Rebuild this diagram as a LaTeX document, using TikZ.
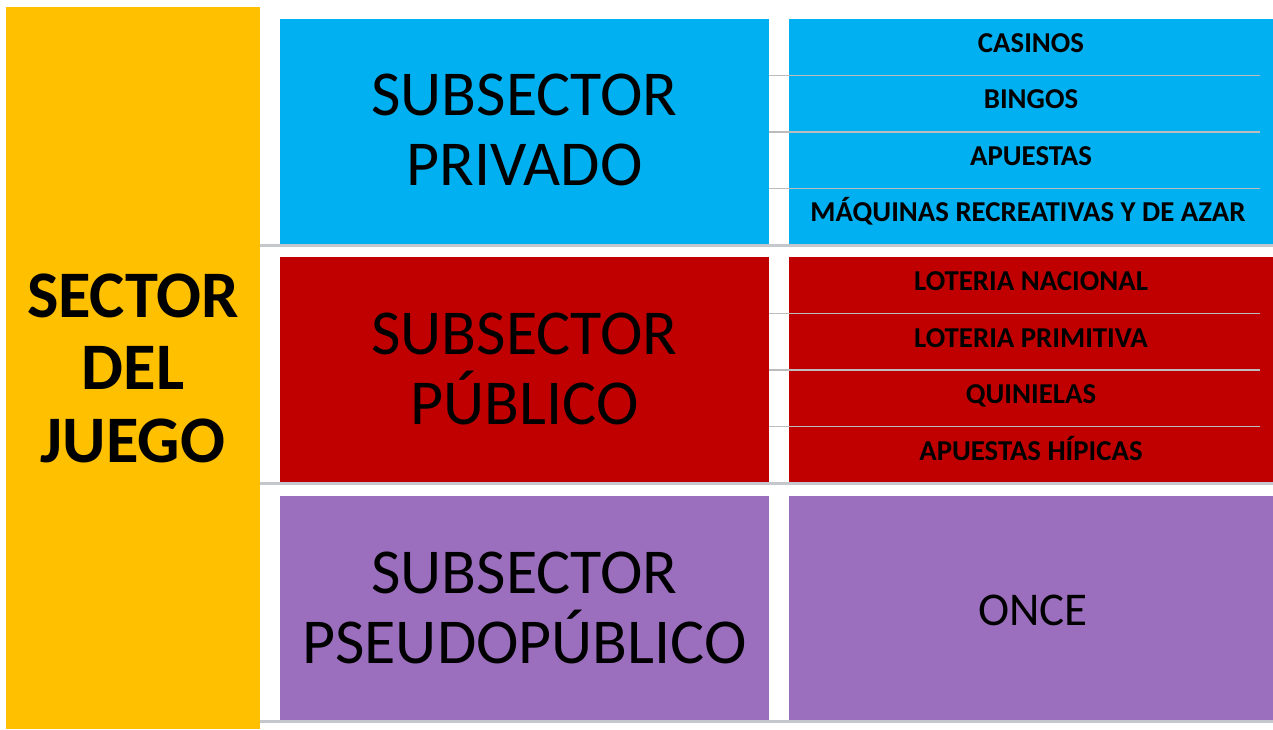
\documentclass[tikz,border=0pt]{standalone}
\usepackage{fontspec}
\setmainfont{Carlito}
\definecolor{cyellow}{HTML}{FFC000}
\definecolor{cblue}{HTML}{00B0F0}
\definecolor{cred}{HTML}{C00000}
\definecolor{cpurple}{HTML}{9B6FBD}
\definecolor{rowgray}{HTML}{C4C8CC}
\definecolor{subgray}{HTML}{BCBCBC}
\begin{document}
\begin{tikzpicture}[x=1pt,y=-1pt,
  box/.style={draw=none,inner sep=0pt,outer sep=0pt,anchor=north west},
  big/.style={font=\fontsize{64}{72}\selectfont,inner sep=0pt,anchor=base},
  sec/.style={font=\fontsize{66.5}{72}\selectfont\bfseries,inner sep=0pt,anchor=base},
  item/.style={font=\fontsize{28.8}{30}\selectfont\bfseries,inner sep=0pt,anchor=base},
  once/.style={font=\fontsize{47}{52}\selectfont,inner sep=0pt,anchor=base},
  rowline/.style={draw=rowgray,line width=3pt},
  subline/.style={draw=subgray,line width=1.5pt}]
\useasboundingbox (0,0) rectangle (1273,729);
% boxes
\node[box,fill=cyellow,minimum width=254pt,minimum height=722pt] (sector) at (6,7) {};
\node[box,fill=cblue,minimum width=489pt,minimum height=226pt] (privL) at (280,19) {};
\node[box,fill=cblue,minimum width=484pt,minimum height=226pt] (privR) at (789,19) {};
\node[box,fill=cred,minimum width=489pt,minimum height=226pt] (pubL) at (280,257) {};
\node[box,fill=cred,minimum width=484pt,minimum height=226pt] (pubR) at (789,257) {};
\node[box,fill=cpurple,minimum width=489pt,minimum height=225pt] (psL) at (280,496) {};
\node[box,fill=cpurple,minimum width=484pt,minimum height=225pt] (psR) at (789,496) {};
% row separators
\draw[rowline] (sector.east |- privL.south) -- (privR.south east);
\draw[rowline] (sector.east |- pubL.south) -- (pubR.south east);
\draw[rowline] (sector.east |- psL.south) -- (psR.south east);
% item separators
\foreach \y in {75.5,132,188.5,313.5,370,426.5}{
  \draw[subline] (769,\y) -- (1260,\y);
}
% texts
\node[sec] (t1) at (133,317) {SECTOR};
\node[sec] (t2) at (133,389.5) {DEL};
\node[sec] (t3) at (133,462) {JUEGO};
\node[big] (p1) at (524.5,115) {SUBSECTOR};
\node[big] (p2) at (524.5,185) {PRIVADO};
\node[big] (u1) at (524.5,354) {SUBSECTOR};
\node[big] (u2) at (524.5,424) {PÚBLICO};
\node[big] (s1) at (524.5,593) {SUBSECTOR};
\node[big] (s2) at (524.5,663) {PSEUDOPÚBLICO};
\node[item] (i1) at (1031,52) {CASINOS};
\node[item] (i2) at (1031,108.5) {BINGOS};
\node[item] (i3) at (1031,165) {APUESTAS};
\node[item] (i4) at (1028,221.5) {MÁQUINAS RECREATIVAS Y DE AZAR};
\node[item] (j1) at (1031,290.5) {LOTERIA NACIONAL};
\node[item] (j2) at (1031,347) {LOTERIA PRIMITIVA};
\node[item] (j3) at (1031,403.5) {QUINIELAS};
\node[item] (j4) at (1031,460) {APUESTAS HÍPICAS};
\node[once] (o1) at (1033,625) {ONCE};
\end{tikzpicture}
\end{document}
